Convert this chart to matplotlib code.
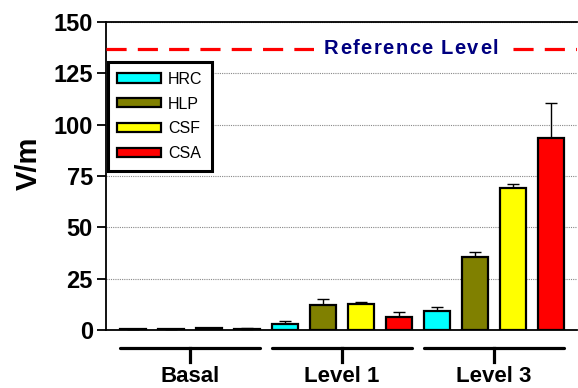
import numpy as np
import matplotlib
matplotlib.use("Agg")
from matplotlib import pyplot as plt, patches
from matplotlib.font_manager import FontProperties

plt.rcParams['font.family'] = ['Liberation Sans', 'DejaVu Sans']

groups = ['Basal', 'Level 1', 'Level 3']
series = ['HRC', 'HLP', 'CSF', 'CSA']
colors = ['#00FFFF', '#808000', '#FFFF00', '#FF0000']
# values per group, in series order
means = [[0.5, 0.5, 0.8, 0.6],
         [2.9, 12.2, 12.7, 6.5],
         [9.4, 35.7, 69.0, 93.7]]
errs = [[0.2, 0.2, 0.2, 0.2],
        [1.5, 2.8, 0.8, 2.3],
        [1.6, 2.5, 2.3, 17.0]]
ref_level = 137
ref_text = 'Reference Level'
yticks = [0, 25, 50, 75, 100, 125, 150]

W, H = 578, 388
fig = plt.figure(figsize=(W / 100, H / 100), dpi=100)
ax = fig.add_axes([106 / W, (H - 330) / H, 471 / W, 308 / H])

width = 0.68
for g in range(len(groups)):
    for s in range(len(series)):
        x = g * 4 + s
        ax.bar(x, means[g][s], width, color=colors[s], edgecolor='black',
               linewidth=1.6, zorder=3, label=series[s] if g == 0 else None)
        ax.errorbar(x, means[g][s], yerr=[[0], [errs[g][s]]], fmt='none',
                    ecolor='black', elinewidth=1.0, capsize=4.5, capthick=1.0, zorder=2)

ax.set_xlim(-0.71, 11.68)
ax.set_ylim(0, 150)
ax.set_yticks(yticks)
ax.set_xticks([])
for t in ax.get_yticklabels():
    t.set_fontweight('bold')
    t.set_fontsize(17)
ax.tick_params(axis='y', length=6.5, width=1.3, pad=3)
ax.set_ylabel('V/m', fontsize=21, fontweight='bold')
ax.yaxis.set_label_coords(-0.134, 0.54)
ax.spines['right'].set_visible(False)
for sp in ['left', 'bottom', 'top']:
    ax.spines[sp].set_linewidth(1.3)
ax.yaxis.grid(True, linestyle=(0, (1, 1)), color='#888888', linewidth=0.8, zorder=0)
ax.set_axisbelow(True)

# group brackets below the axis
tr = ax.get_xaxis_transform()
for g, name in enumerate(groups):
    x0 = g * 4 - width / 2
    x1 = g * 4 + 3 + width / 2
    xc = g * 4 + 1.5
    ax.plot([x0, x1], [-0.058, -0.058], color='black', lw=2.3, transform=tr,
            clip_on=False, solid_capstyle='round')
    ax.plot([xc, xc], [-0.058, -0.104], color='black', lw=2.3, transform=tr,
            clip_on=False)
    ax.text(xc, -0.118, name, transform=tr, ha='center', va='top',
            fontsize=16, fontweight='bold')

# reference line
ax.axhline(ref_level, color='#FF0000', lw=2.3, dashes=(6.3, 3.5), zorder=4)

fp = FontProperties(family='Liberation Sans', weight='bold', size=14.5)
renderer = fig.canvas.get_renderer()
spacing = 1.4
ws = [renderer.get_text_width_height_descent(ch, fp, ismath=False)[0] for ch in ref_text]
total = sum(ws) + spacing * (len(ref_text) - 1)
cx_px = 411
y_px = ax.transData.transform((0, ref_level))[1]
inv = ax.transData.inverted()
pad = 10
xa = inv.transform((cx_px - total / 2 - pad, y_px - 6))
xb = inv.transform((cx_px + total / 2 + pad, y_px + 6))
ax.add_patch(patches.Rectangle((xa[0], xa[1]), xb[0] - xa[0], xb[1] - xa[1],
                               facecolor='white', edgecolor='none', zorder=5))
xpos = cx_px - total / 2
for ch, w in zip(ref_text, ws):
    d = inv.transform((xpos, y_px))
    ax.text(d[0], ref_level, ch, fontproperties=fp, color='#000080',
            ha='left', va='center', zorder=6)
    xpos += w + spacing

leg = ax.legend(loc='upper left', bbox_to_anchor=(0.004, 0.870), borderaxespad=0,
                fontsize=11.5, handlelength=2.7, handleheight=0.5, labelspacing=0.62,
                fancybox=False, edgecolor='black', framealpha=1, borderpad=0.6,
                handletextpad=0.45)
leg.get_frame().set_linewidth(2.2)
leg.set_zorder(7)

fig.savefig('out.png', dpi=100)
